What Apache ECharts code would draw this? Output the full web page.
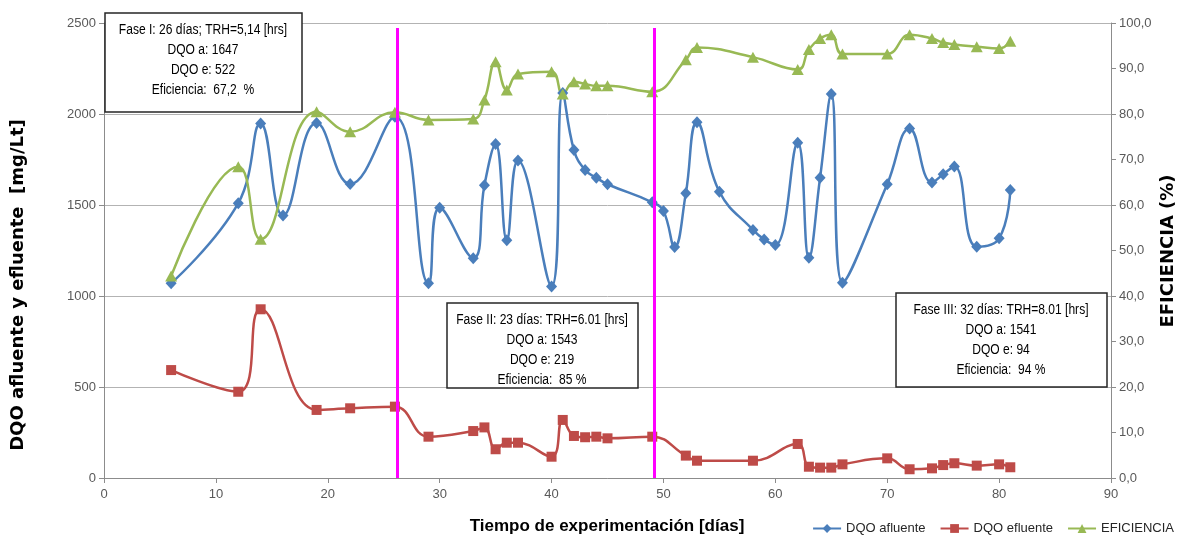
<!DOCTYPE html>
<html>
<head>
<meta charset="utf-8">
<script src="https://cdn.jsdelivr.net/npm/echarts@6/dist/echarts.min.js"></script>
<style>
html,body{margin:0;padding:0;background:#fff;}
#chart{width:1184px;height:540px;}
</style>
</head>
<body>
<div id="chart"></div>
<script>
// ---- data ----
const daysAfluente = [6,12,14,16,19,22,26,29,30,33,34,35,36,37,40,41,42,43,44,45,49,50,51,52,53,55,58,59,60,62,63,64,65,66,70,72,74,75,76,78,80,81];
const dqoAfluente = [1070,1510,1948,1442,1950,1615,1985,1070,1485,1208,1608,1835,1306,1745,1052,2115,1802,1692,1650,1614,1515,1467,1269,1564,1954,1573,1363,1311,1280,1842,1210,1650,2110,1073,1614,1921,1623,1669,1711,1271,1317,1582];
const daysEfluente = [6,12,14,19,22,26,29,33,34,35,36,37,40,41,42,43,44,45,49,52,53,58,62,63,64,65,66,70,72,74,75,76,78,80,81];
const dqoEfluente = [593,474,927,374,383,392,227,258,278,158,194,194,117,319,231,224,227,218,227,123,95,95,187,62,57,57,75,108,48,53,71,81,68,75,59];
const eficiencia = [44.4,68.4,52.5,80.5,76.1,80.4,78.7,78.9,83.1,91.5,85.3,88.8,89.3,84.4,87.1,86.6,86.2,86.2,84.9,91.9,94.6,92.5,89.8,94.2,96.6,97.4,93.2,93.2,97.4,96.6,95.7,95.3,94.8,94.4,96.0];
const phaseLimits = [26.2, 49.15];
const phaseLineTop = 2473;
const phaseTexts = [
  ['Fase I: 26 días; TRH=5,14 [hrs]', 'DQO a: 1647', 'DQO e: 522', 'Eficiencia:  67,2  %'],
  ['Fase II: 23 días: TRH=6.01 [hrs]', 'DQO a: 1543', 'DQO e: 219', 'Eficiencia:  85 %'],
  ['Fase III: 32 días: TRH=8.01 [hrs]', 'DQO a: 1541', 'DQO e: 94', 'Eficiencia:  94 %']
];
const seriesNames = ['DQO afluente', 'DQO efluente', 'EFICIENCIA'];
const xTitle = 'Tiempo de experimentación [días]';
const yLeftTitle = 'DQO afluente y efluente  [mg/Lt]';
const yRightTitle = 'EFICIENCIA (%)';

// ---- build ----
const zip = (xs, ys) => xs.map((x, i) => [x, ys[i]]);
const sans = "'Liberation Sans',sans-serif";
const axisGrey = '#8c8c8c';
const labelGrey = '#595959';

const boxes = [
  {x:105, y:13, w:197, h:99, tx:203, ty:60},
  {x:447, y:303, w:191, h:85, tx:542, ty:350},
  {x:896, y:293, w:211, h:94, tx:1001, ty:340}
];
const graphics = [];
boxes.forEach((b, i) => {
  graphics.push({type:'rect', z:100, shape:{x:b.x, y:b.y, width:b.w, height:b.h},
    style:{fill:'#fff', stroke:'#262626', lineWidth:1.5}});
  graphics.push({type:'text', z:101, x:b.tx, y:b.ty, scaleX:0.86,
    style:{text:phaseTexts[i].join('\n'), align:'center', verticalAlign:'middle',
      font:"14px " + sans, fill:'#000', lineHeight:20}});
});
graphics.push({type:'text', x:18, y:285, rotation:Math.PI/2,
  style:{text:yLeftTitle, align:'center', verticalAlign:'middle',
    font:"bold 18px 'DejaVu Sans',sans-serif", fill:'#000'}});
graphics.push({type:'text', x:1168, y:251, rotation:Math.PI/2,
  style:{text:yRightTitle, align:'center', verticalAlign:'middle',
    font:"bold 18px 'DejaVu Sans',sans-serif", fill:'#000'}});
graphics.push({type:'text', x:607, y:526,
  style:{text:xTitle, align:'center', verticalAlign:'middle',
    font:"bold 17px " + sans, fill:'#000'}});

const chart = echarts.init(document.getElementById('chart'), null, {renderer:'canvas'});
chart.setOption({
  animation:false,
  backgroundColor:'#fff',
  grid:{left:104, right:73, top:23, bottom:62},
  legend:{
    right:5, bottom:0, itemWidth:28, itemHeight:11, itemGap:14,
    textStyle:{fontFamily:sans, fontSize:13, color:'#262626'},
    data:seriesNames
  },
  xAxis:{
    type:'value', min:0, max:90, interval:10,
    axisLine:{show:true, lineStyle:{color:axisGrey, width:1}},
    axisTick:{show:true, length:5, lineStyle:{color:axisGrey}},
    axisLabel:{color:labelGrey, fontFamily:sans, fontSize:13, margin:10},
    splitLine:{show:false}
  },
  yAxis:[
    {
      type:'value', min:0, max:2500, interval:500, position:'left',
      axisLine:{show:true, lineStyle:{color:axisGrey, width:1}},
      axisTick:{show:true, length:5, lineStyle:{color:axisGrey}},
      axisLabel:{color:labelGrey, fontFamily:sans, fontSize:13, margin:8,
        formatter:v => String(v)},
      splitLine:{show:true, lineStyle:{color:'#b3b3b3', width:1}}
    },
    {
      type:'value', min:0, max:100, interval:10, position:'right',
      axisLine:{show:true, lineStyle:{color:axisGrey, width:1}},
      axisTick:{show:true, length:5, lineStyle:{color:axisGrey}},
      axisLabel:{color:labelGrey, fontFamily:sans, fontSize:13, margin:8,
        formatter:v => v.toFixed(1).replace('.', ',')},
      splitLine:{show:false}
    }
  ],
  series:[
    {
      name:seriesNames[0], type:'line', yAxisIndex:0, smooth:0.45,
      data:zip(daysAfluente, dqoAfluente),
      symbol:'diamond', symbolSize:[11,12],
      itemStyle:{color:'#4a7ebb'}, lineStyle:{color:'#4a7ebb', width:2.5},
      markLine:{
        silent:true, symbol:'none', label:{show:false},
        lineStyle:{color:'#ff00ff', width:3, type:'solid'},
        data:phaseLimits.map(d => [{coord:[d, 0]}, {coord:[d, phaseLineTop]}]),
        z:50
      }
    },
    {
      name:seriesNames[1], type:'line', yAxisIndex:0, smooth:0.45,
      data:zip(daysEfluente, dqoEfluente),
      symbol:'rect', symbolSize:10,
      itemStyle:{color:'#be4b48'}, lineStyle:{color:'#be4b48', width:2.5}
    },
    {
      name:seriesNames[2], type:'line', yAxisIndex:1, smooth:0.45,
      data:zip(daysEfluente, eficiencia),
      symbol:'triangle', symbolSize:[12,11],
      itemStyle:{color:'#98b954'}, lineStyle:{color:'#98b954', width:2.5}
    }
  ],
  graphic:graphics
});
</script>
</body>
</html>
